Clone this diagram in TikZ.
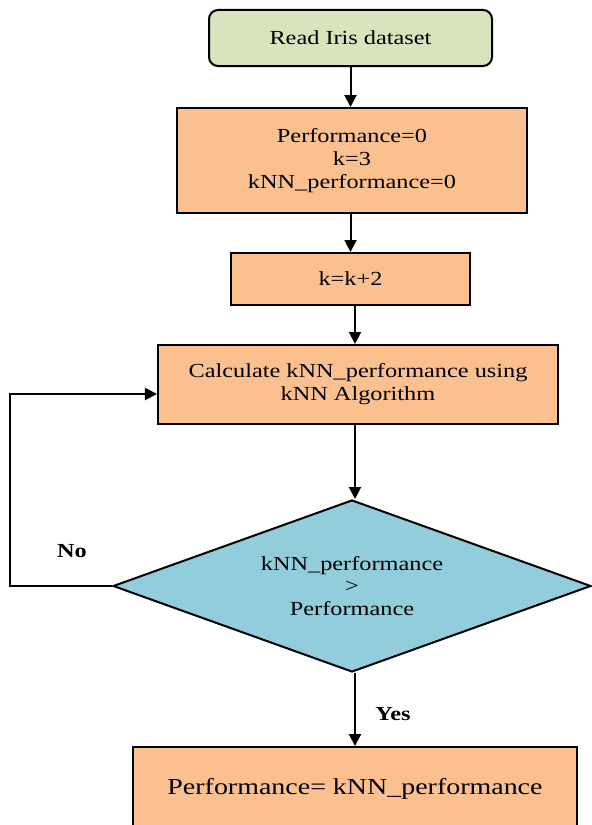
\documentclass[tikz,border=0pt]{standalone}
\usepackage{fontspec}
\setmainfont{Liberation Serif}[FakeStretch=1.22]
\usetikzlibrary{shapes.geometric,arrows.meta}
\definecolor{sagegreen}{RGB}{215,228,189}
\definecolor{peach}{RGB}{250,192,144}
\definecolor{skyblue}{RGB}{146,205,220}

\begin{document}
\begin{tikzpicture}[x=1bp,y=-1bp,
    font=\fontsize{20}{23}\selectfont,
    every node/.style={inner sep=0pt, align=center},
    stepbox/.style={draw, fill=peach, line width=2bp, rectangle},
    flow/.style={line width=2bp, -{Triangle[width=12bp,length=12bp]}},
    tag/.style={font=\fontsize{20}{23}\selectfont\bfseries}]

    \useasboundingbox (0,0) rectangle (592,825);

    % boxes
    \node[draw, fill=sagegreen, rounded corners=9bp, line width=2bp,
          minimum width=283bp, minimum height=56bp] (read) at (350.5,38) {Read Iris dataset};
    \node[stepbox, minimum width=350bp, minimum height=105bp] (init) at (352,160.5)
          {Performance=0\\k=3\\kNN\_performance=0};
    \node[stepbox, minimum width=239bp, minimum height=52bp] (incr) at (350.5,279) {k=k+2};
    \node[stepbox, minimum width=400bp, minimum height=79bp] (calc) at (358,384.5)
          {Calculate kNN\_performance using\\kNN Algorithm};
    \node[diamond, draw, fill=skyblue, line width=2bp, aspect=2.78,
          minimum width=478bp, minimum height=172bp] (cond) at (352,586)
          {kNN\_performance\\>\\Performance};
    \node[stepbox, minimum width=444bp, minimum height=84bp,
          font=\fontsize{23}{26}\selectfont] (final) at (355,789)
          {Performance= kNN\_performance};

    % labels
    \node[tag] (no) at (72,551) {No};
    \node[tag] (yes) at (393,714) {Yes};

    \coordinate (spine) at (355,0);
    \coordinate (back) at (10,394);

    % arrows
    \draw[flow] (read.south) -- (read.south |- init.north);
    \draw[flow] (init.south -| read.south) -- (incr.north -| read.south);
    \draw[flow] (incr.south -| spine) -- (calc.north -| spine);
    \draw[flow] (calc.south -| spine) -- (cond.north -| spine);
    \draw[flow] (cond.south -| spine) -- (final.north -| spine);
    \draw[flow] (cond.west) -| (back) -- (calc.west |- back);

\end{tikzpicture}
\end{document}
